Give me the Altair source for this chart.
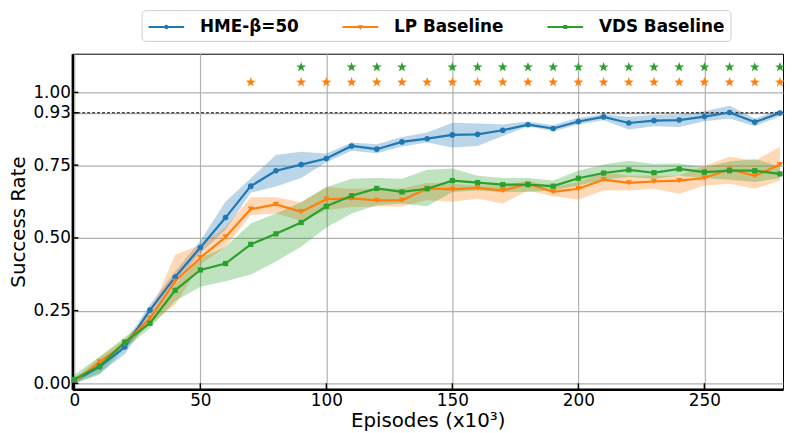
import altair as alt
import pandas as pd

episodes = list(range(0, 290, 10))
series_names = ["HME-β=50", "LP Baseline", "VDS Baseline"]
series_colors = ["#1f77b4", "#ff7f0e", "#2ca02c"]
series_shapes = ["circle", "triangle-down", "square"]

hme_mean = [0.008, 0.057, 0.125, 0.252, 0.366, 0.467, 0.570, 0.678, 0.731, 0.752, 0.773, 0.816, 0.805, 0.830, 0.841,
            0.854, 0.856, 0.870, 0.889, 0.876, 0.900, 0.916, 0.895, 0.903, 0.905, 0.917, 0.931, 0.898, 0.929]
hme_hi = [0.02, 0.07, 0.14, 0.27, 0.385, 0.49, 0.625, 0.705, 0.785, 0.796, 0.79, 0.828, 0.822, 0.847, 0.862,
          0.896, 0.893, 0.890, 0.900, 0.887, 0.913, 0.924, 0.916, 0.922, 0.924, 0.935, 0.954, 0.910, 0.940]
hme_lo = [0.0, 0.035, 0.10, 0.225, 0.345, 0.448, 0.527, 0.655, 0.677, 0.706, 0.76, 0.80, 0.791, 0.814, 0.828,
          0.811, 0.816, 0.850, 0.884, 0.867, 0.890, 0.904, 0.873, 0.884, 0.881, 0.901, 0.910, 0.884, 0.918]

lp_mean = [0.005, 0.074, 0.136, 0.224, 0.351, 0.432, 0.503, 0.599, 0.615, 0.590, 0.633, 0.636, 0.629, 0.629, 0.670,
           0.667, 0.672, 0.663, 0.686, 0.658, 0.669, 0.700, 0.689, 0.694, 0.697, 0.706, 0.736, 0.713, 0.752]
lp_hi = [0.015, 0.09, 0.15, 0.24, 0.442, 0.476, 0.538, 0.64, 0.64, 0.623, 0.675, 0.669, 0.67, 0.67, 0.69,
         0.686, 0.680, 0.680, 0.697, 0.675, 0.692, 0.726, 0.714, 0.714, 0.714, 0.748, 0.779, 0.765, 0.813]
lp_lo = [0.0, 0.06, 0.12, 0.205, 0.27, 0.408, 0.47, 0.578, 0.584, 0.559, 0.595, 0.606, 0.608, 0.608, 0.63,
         0.624, 0.635, 0.618, 0.663, 0.643, 0.632, 0.663, 0.663, 0.669, 0.652, 0.680, 0.686, 0.669, 0.697]

vds_mean = [0.014, 0.060, 0.142, 0.207, 0.320, 0.390, 0.412, 0.478, 0.514, 0.553, 0.609, 0.645, 0.670, 0.658, 0.669,
            0.697, 0.690, 0.683, 0.683, 0.678, 0.705, 0.723, 0.734, 0.724, 0.737, 0.726, 0.731, 0.731, 0.720]
vds_hi = [0.03, 0.092, 0.16, 0.225, 0.34, 0.43, 0.47, 0.55, 0.584, 0.623, 0.675, 0.703, 0.706, 0.703, 0.734,
          0.739, 0.714, 0.706, 0.706, 0.697, 0.731, 0.752, 0.765, 0.754, 0.756, 0.743, 0.763, 0.771, 0.745]
vds_lo = [0.0, 0.03, 0.12, 0.19, 0.283, 0.332, 0.351, 0.374, 0.419, 0.47, 0.536, 0.584, 0.612, 0.618, 0.609,
          0.658, 0.663, 0.658, 0.658, 0.663, 0.680, 0.700, 0.709, 0.703, 0.714, 0.706, 0.700, 0.692, 0.706]

vds_star_x = [90, 110, 120, 130] + list(range(150, 290, 10))
lp_star_x = [70] + list(range(90, 290, 10))
vds_star_y = 1.087
lp_star_y = 1.035
ref_level = 0.93

x_ticks = [0, 50, 100, 150, 200, 250]
y_ticks = [0.0, 0.25, 0.5, 0.75, 0.93, 1.0]

x_min, x_max = -0.8, 281.2
y_min, y_max = -0.02, 1.133
tick_len_x = 0.0205   # inward tick length in y-units
tick_len_y = 2.4      # inward tick length in x-units

rows = []
for name, m, lo, hi in [(series_names[0], hme_mean, hme_lo, hme_hi),
                        (series_names[1], lp_mean, lp_lo, lp_hi),
                        (series_names[2], vds_mean, vds_lo, vds_hi)]:
    for e, a, b, c in zip(episodes, m, lo, hi):
        rows.append({"episode": e, "series": name, "mean": a, "lo": b, "hi": c})
df = pd.DataFrame(rows)

# helper rows that only drive the legend (they fall outside the x domain and are clipped)
legend_df = pd.DataFrame({"series": series_names, "episode": [x_max + 20] * 3, "mean": [0.5] * 3})

stars = pd.DataFrame(
    [{"episode": e, "level": vds_star_y, "which": "VDS"} for e in vds_star_x] +
    [{"episode": e, "level": lp_star_y, "which": "LP"} for e in lp_star_x]
)
ref_df = pd.DataFrame({"level": [ref_level]})
xt_df = pd.DataFrame({"t": x_ticks, "a": [y_min] * len(x_ticks), "b": [y_min + tick_len_x] * len(x_ticks)})
yt_df = pd.DataFrame({"t": y_ticks, "a": [x_min] * len(y_ticks), "b": [x_min + tick_len_y] * len(y_ticks)})

x_scale = alt.Scale(domain=[x_min, x_max], nice=False, zero=False)
y_scale = alt.Scale(domain=[y_min, y_max], nice=False, zero=False)

x_axis = alt.Axis(values=x_ticks, title="Episodes (x10³)", format="d", ticks=False, tickSize=0,
                  labelPadding=3, titlePadding=3)
y_axis = alt.Axis(values=y_ticks, title="Success Rate", format=".2f", ticks=False, tickSize=0,
                  labelPadding=2, titlePadding=4)

color_scale = alt.Scale(domain=series_names, range=series_colors)

# legend symbols: a line segment with the series marker in its middle
line_p = "M-1,0H2.6"
legend_paths = [
    line_p + "M0.68,0A0.12,0.12 0 1,0 0.92,0A0.12,0.12 0 1,0 0.68,0Z",
    line_p + "M0.68,-0.08L0.92,-0.08L0.8,0.12Z",
    line_p + "M0.7,-0.1L0.9,-0.1L0.9,0.1L0.7,0.1Z",
]

legend = alt.Legend(
    orient="none", legendX=70, legendY=-44, direction="horizontal", title=None,
    labelFont="DejaVu Sans", labelFontSize=17, labelFontWeight="bold", labelColor="black",
    symbolSize=400, labelOffset=31, columnPadding=40, padding=6,
    strokeColor="#cccccc", fillColor="white", cornerRadius=4,
    symbolStrokeWidth=2, symbolOpacity=1,
)

base = alt.Chart(df)

legend_layer = alt.Chart(legend_df).mark_point(size=400, strokeWidth=2, clip=True).encode(
    x=alt.X("episode:Q", scale=x_scale, axis=x_axis),
    y=alt.Y("mean:Q", scale=y_scale, axis=y_axis),
    color=alt.Color("series:N", scale=color_scale, legend=legend),
    shape=alt.Shape("series:N", scale=alt.Scale(domain=series_names, range=legend_paths), legend=legend),
)

bands = base.mark_area(opacity=0.3).encode(
    x=alt.X("episode:Q", scale=x_scale),
    y=alt.Y("lo:Q", scale=y_scale),
    y2="hi:Q",
    color=alt.Color("series:N", scale=color_scale, legend=None),
    detail="series:N",
)

lines = base.mark_line(strokeWidth=2.2).encode(
    x=alt.X("episode:Q", scale=x_scale),
    y=alt.Y("mean:Q", scale=y_scale),
    color=alt.Color("series:N", scale=color_scale, legend=None),
)

marker_sizes = [32, 38, 28]
point_layers = []
for name, col, shp, sz in zip(series_names, series_colors, series_shapes, marker_sizes):
    point_layers.append(
        base.transform_filter(alt.datum.series == name).mark_point(
            filled=True, opacity=1, shape=shp, size=sz, color=col
        ).encode(x=alt.X("episode:Q", scale=x_scale), y=alt.Y("mean:Q", scale=y_scale))
    )

ref_line = alt.Chart(ref_df).mark_rule(color="black", strokeWidth=1, strokeDash=[3, 2]).encode(
    y=alt.Y("level:Q", scale=y_scale)
)

xticks_layer = alt.Chart(xt_df).mark_rule(color="black", strokeWidth=1.5).encode(
    x=alt.X("t:Q", scale=x_scale), y=alt.Y("a:Q", scale=y_scale), y2="b:Q"
)
yticks_layer = alt.Chart(yt_df).mark_rule(color="black", strokeWidth=1.5).encode(
    y=alt.Y("t:Q", scale=y_scale), x=alt.X("a:Q", scale=x_scale), x2="b:Q"
)

star_path = ("M0,-1L0.235,-0.324L0.951,-0.309L0.38,0.124L0.588,0.809L0,0.4L-0.588,0.809"
             "L-0.38,0.124L-0.951,-0.309L-0.235,-0.324Z")
vds_stars = alt.Chart(stars).transform_filter("datum.which === 'VDS'").mark_point(
    shape=star_path, filled=True, size=110, opacity=1, color=series_colors[2]
).encode(x=alt.X("episode:Q", scale=x_scale), y=alt.Y("level:Q", scale=y_scale))
lp_stars = alt.Chart(stars).transform_filter("datum.which === 'LP'").mark_point(
    shape=star_path, filled=True, size=110, opacity=1, color=series_colors[1]
).encode(x=alt.X("episode:Q", scale=x_scale), y=alt.Y("level:Q", scale=y_scale))

chart = alt.layer(legend_layer, bands, ref_line, lines, *point_layers, vds_stars, lp_stars,
                  xticks_layer, yticks_layer).properties(
    width=718, height=339,
    autosize=alt.AutoSizeParams(type="none"),
    padding={"left": 65, "top": 44, "right": 1, "bottom": 42},
).configure_axis(
    labelFont="DejaVu Sans", labelFontSize=17, labelColor="black",
    titleFont="DejaVu Sans", titleFontSize=20, titleFontWeight="normal", titleColor="black",
    domainColor="black", domainWidth=2.5,
    gridColor="#b0b0b0", gridWidth=1.2,
).configure_view(stroke="black", strokeWidth=1)

chart.save("out.html", embed_options={"renderer": "svg", "actions": False})
